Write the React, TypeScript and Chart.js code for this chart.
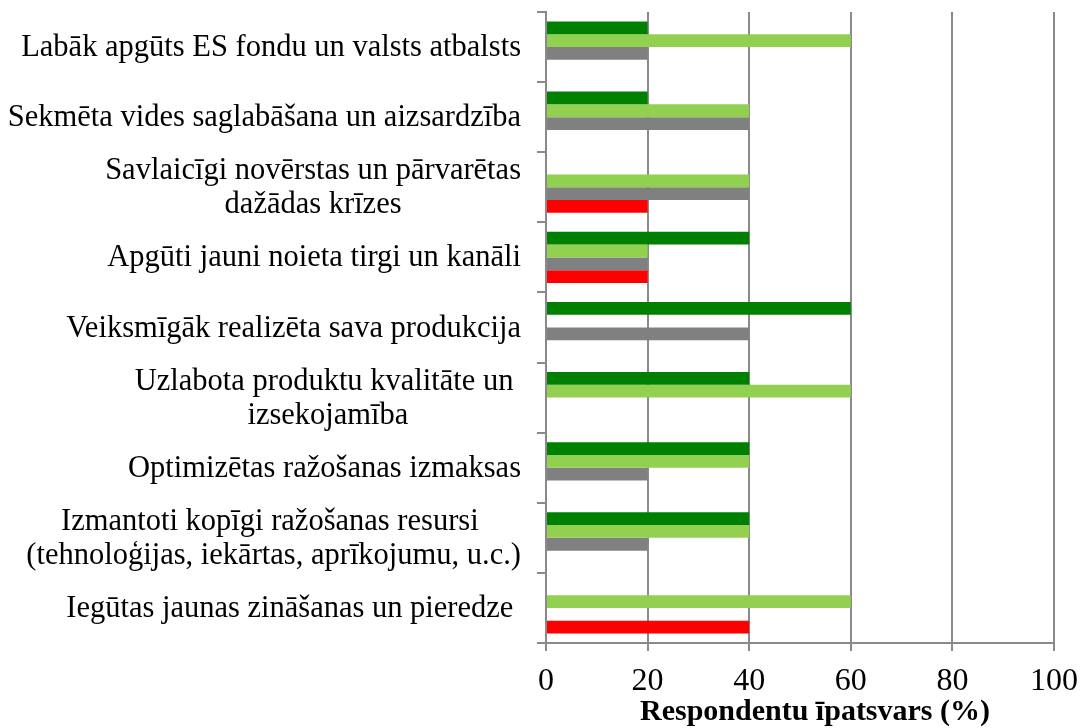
import React, { useEffect, useRef } from "react";
import { Chart, registerables } from "chart.js";

Chart.register(...registerables);

const categories: string[][] = [
  ["Labāk apgūts ES fondu un valsts atbalsts"],
  ["Sekmēta vides saglabāšana un aizsardzība"],
  ["Savlaicīgi novērstas un pārvarētas", "dažādas krīzes"],
  ["Apgūti jauni noieta tirgi un kanāli"],
  ["Veiksmīgāk realizēta sava produkcija"],
  ["Uzlabota produktu kvalitāte un ", "izsekojamība"],
  ["Optimizētas ražošanas izmaksas"],
  ["Izmantoti kopīgi ražošanas resursi ", "(tehnoloģijas, iekārtas, aprīkojumu, u.c.)"],
  ["Iegūtas jaunas zināšanas un pieredze "],
];

const seriesDarkGreen = [20, 20, 0, 40, 60, 40, 40, 40, 0];
const seriesLightGreen = [60, 40, 40, 20, 0, 60, 40, 40, 60];
const seriesGray = [20, 40, 40, 20, 40, 0, 20, 20, 0];
const seriesRed = [0, 0, 20, 20, 0, 0, 0, 0, 40];

const xTicks = [0, 20, 40, 60, 80, 100];
const xTitle = "Respondentu īpatsvars (%)";

const FONT = "'Liberation Serif', 'Times New Roman', serif";

const labelPlugin = {
  id: "blockLabels",
  afterDraw(chart: any) {
    const ctx = chart.ctx;
    const y = chart.scales.y;
    const area = chart.chartArea;
    const right = area.left - 25;
    const lh = 34;
    ctx.save();
    ctx.font = `30.5px ${FONT}`;
    ctx.fillStyle = "#000";
    ctx.textBaseline = "middle";
    ctx.textAlign = "center";
    categories.forEach((lines, i) => {
      const cy = y.getPixelForValue(i) + 1;
      const w = Math.max(...lines.map((l) => ctx.measureText(l).width));
      const cx = right - w / 2;
      lines.forEach((l, j) => {
        ctx.fillText(l, cx, cy + (j - (lines.length - 1) / 2) * lh);
      });
    });
    // x-axis title (placed slightly right of the plot centre, as in the original)
    ctx.font = `bold 30px ${FONT}`;
    ctx.fillText(xTitle, (area.left + area.right) / 2 + 15, area.bottom + 69);
    ctx.restore();
  },
};

export default function App() {
  const ref = useRef<HTMLCanvasElement>(null);
  useEffect(() => {
    if (!ref.current) return;
    const chart = new Chart(ref.current, {
      type: "bar",
      data: {
        labels: categories.map((c) => c.join(" ")),
        datasets: [
          { label: "a", data: seriesDarkGreen, backgroundColor: "#008000" },
          { label: "b", data: seriesLightGreen, backgroundColor: "#92D050" },
          { label: "c", data: seriesGray, backgroundColor: "#808080" },
          { label: "d", data: seriesRed, backgroundColor: "#FF0000" },
        ],
      },
      options: {
        indexAxis: "y",
        responsive: false,
        animation: false,
        events: [],
        layout: { padding: { top: 12, right: 30, left: 0, bottom: 0 } },
        datasets: { bar: { categoryPercentage: 0.73, barPercentage: 1 } },
        plugins: { legend: { display: false }, tooltip: { enabled: false } },
        scales: {
          x: {
            min: 0,
            max: 100,
            afterBuildTicks: (s: any) => {
              s.ticks = xTicks.map((v) => ({ value: v }));
            },
            afterFit: (s: any) => {
              s.height = 85;
              s.paddingLeft = 0;
              s.paddingRight = 0;
            },
            grid: { color: "#8a8a8a", lineWidth: 2, tickLength: 8, drawTicks: true },
            border: { color: "#8a8a8a", width: 2 },
            ticks: { color: "#000", font: { family: FONT, size: 32 }, padding: 11, maxRotation: 0 },
            title: { display: false },
          },
          y: {
            grid: { offset: true, drawOnChartArea: false, drawTicks: true, tickLength: 9, color: "#8a8a8a", lineWidth: 2 },
            border: { color: "#8a8a8a", width: 2 },
            ticks: { display: false },
            afterFit: (s: any) => {
              s.width = 546;
            },
          },
        },
      },
      plugins: [labelPlugin],
    });
    return () => chart.destroy();
  }, []);
  return (
    <div style={{ position: "absolute", left: 0, top: 0, width: 1084, height: 728, background: "#fff" }}>
      <canvas ref={ref} width={1084} height={728} />
    </div>
  );
}
